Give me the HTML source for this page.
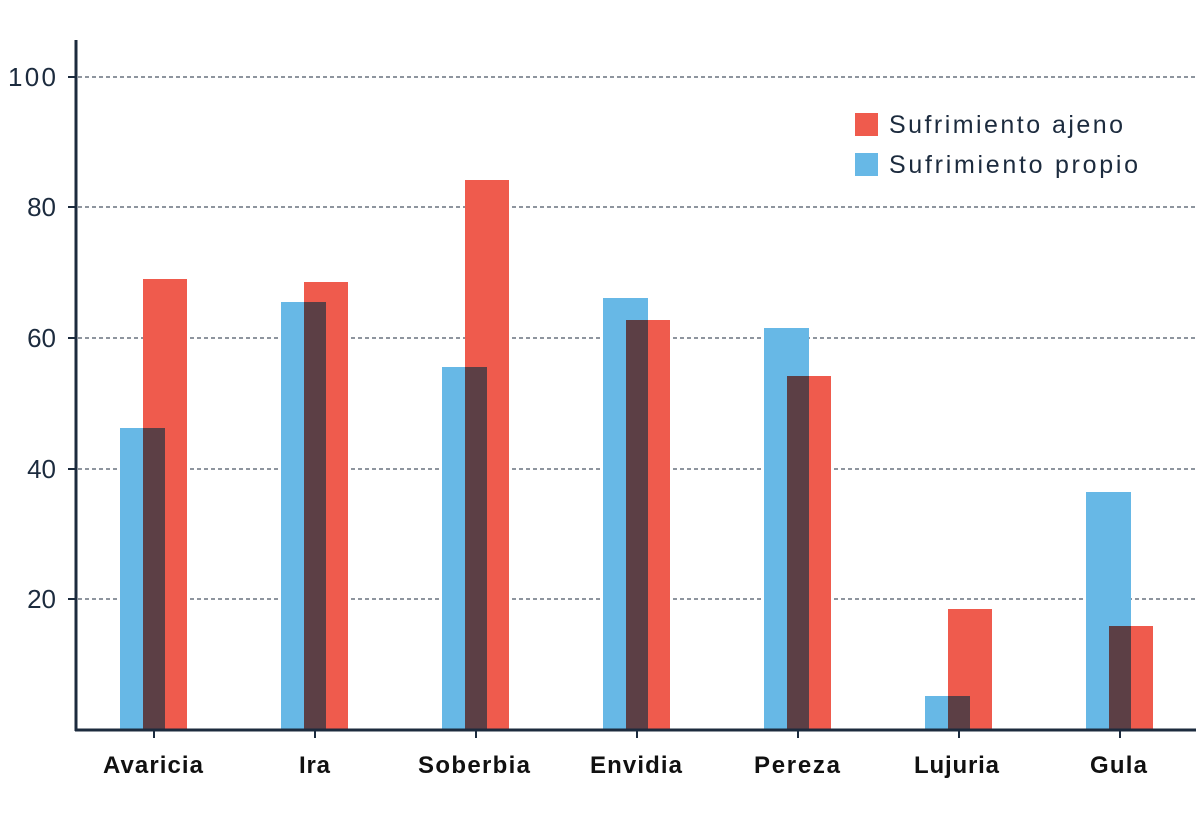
<!DOCTYPE html>
<html><head><meta charset="utf-8"><style>body{margin:0;background:#fff}</style></head><body>
<svg width="1200" height="827" xmlns="http://www.w3.org/2000/svg" font-family="Liberation Sans, sans-serif">
<g stroke="#1c2b3e" stroke-width="1" stroke-dasharray="4,3">
<line x1="78" y1="77" x2="1195" y2="77"/><line x1="78" y1="207" x2="1195" y2="207"/><line x1="78" y1="338" x2="1195" y2="338"/><line x1="78" y1="469" x2="1195" y2="469"/><line x1="78" y1="599" x2="1195" y2="599"/>
</g>
<g stroke="#1c2b3e" stroke-width="2"><line x1="68" y1="77" x2="76" y2="77"/><line x1="68" y1="207" x2="76" y2="207"/><line x1="68" y1="338" x2="76" y2="338"/><line x1="68" y1="469" x2="76" y2="469"/><line x1="68" y1="599" x2="76" y2="599"/></g>
<g fill="#1c2b3e" font-size="26" text-anchor="end"><text x="56" y="86" textLength="48">100</text><text x="56" y="216">80</text><text x="56" y="347">60</text><text x="56" y="478">40</text><text x="56" y="608">20</text></g>

<g fill="#67b8e6">
<rect x="120" y="428" width="45" height="302"/>
<rect x="281" y="302" width="45" height="428"/>
<rect x="442" y="367" width="45" height="363"/>
<rect x="603" y="298" width="45" height="432"/>
<rect x="764" y="328" width="45" height="402"/>
<rect x="925" y="696" width="45" height="34"/>
<rect x="1086" y="492" width="45" height="238"/>
</g>
<g fill="#ef5b4d">
<rect x="143" y="279" width="44" height="451"/>
<rect x="304" y="282" width="44" height="448"/>
<rect x="465" y="180" width="44" height="550"/>
<rect x="626" y="320" width="44" height="410"/>
<rect x="787" y="376" width="44" height="354"/>
<rect x="948" y="609" width="44" height="121"/>
<rect x="1109" y="626" width="44" height="104"/>
</g>
<g fill="#5c3f45">
<rect x="143" y="428" width="22" height="302"/>
<rect x="304" y="302" width="22" height="428"/>
<rect x="465" y="367" width="22" height="363"/>
<rect x="626" y="320" width="22" height="410"/>
<rect x="787" y="376" width="22" height="354"/>
<rect x="948" y="696" width="22" height="34"/>
<rect x="1109" y="626" width="22" height="104"/>
</g>

<line x1="76" y1="40" x2="76" y2="731" stroke="#1c2b3e" stroke-width="3"/>
<line x1="75" y1="730" x2="1196" y2="730" stroke="#1c2b3e" stroke-width="3"/>
<g stroke="#1c2b3e" stroke-width="2">
<line x1="154" y1="730" x2="154" y2="738"/><line x1="315" y1="730" x2="315" y2="738"/><line x1="476" y1="730" x2="476" y2="738"/><line x1="637" y1="730" x2="637" y2="738"/><line x1="798" y1="730" x2="798" y2="738"/><line x1="959" y1="730" x2="959" y2="738"/><line x1="1120" y1="730" x2="1120" y2="738"/>
</g>
<g fill="#111" font-size="24" font-weight="bold">
<text x="103" y="773" textLength="100">Avaricia</text><text x="299" y="773" textLength="31">Ira</text><text x="418" y="773" textLength="112">Soberbia</text><text x="590" y="773" textLength="92">Envidia</text><text x="754" y="773" textLength="86">Pereza</text><text x="914" y="773" textLength="85">Lujuria</text><text x="1090" y="773" textLength="57">Gula</text>
</g>

<rect x="855" y="113" width="23" height="23" fill="#ef5b4d"/>
<rect x="855" y="153" width="23" height="23" fill="#67b8e6"/>
<g fill="#1c2b3e" font-size="25"><text x="889" y="133" textLength="234">Sufrimiento ajeno</text><text x="889" y="173" textLength="249">Sufrimiento propio</text></g>
</svg>
</body></html>
